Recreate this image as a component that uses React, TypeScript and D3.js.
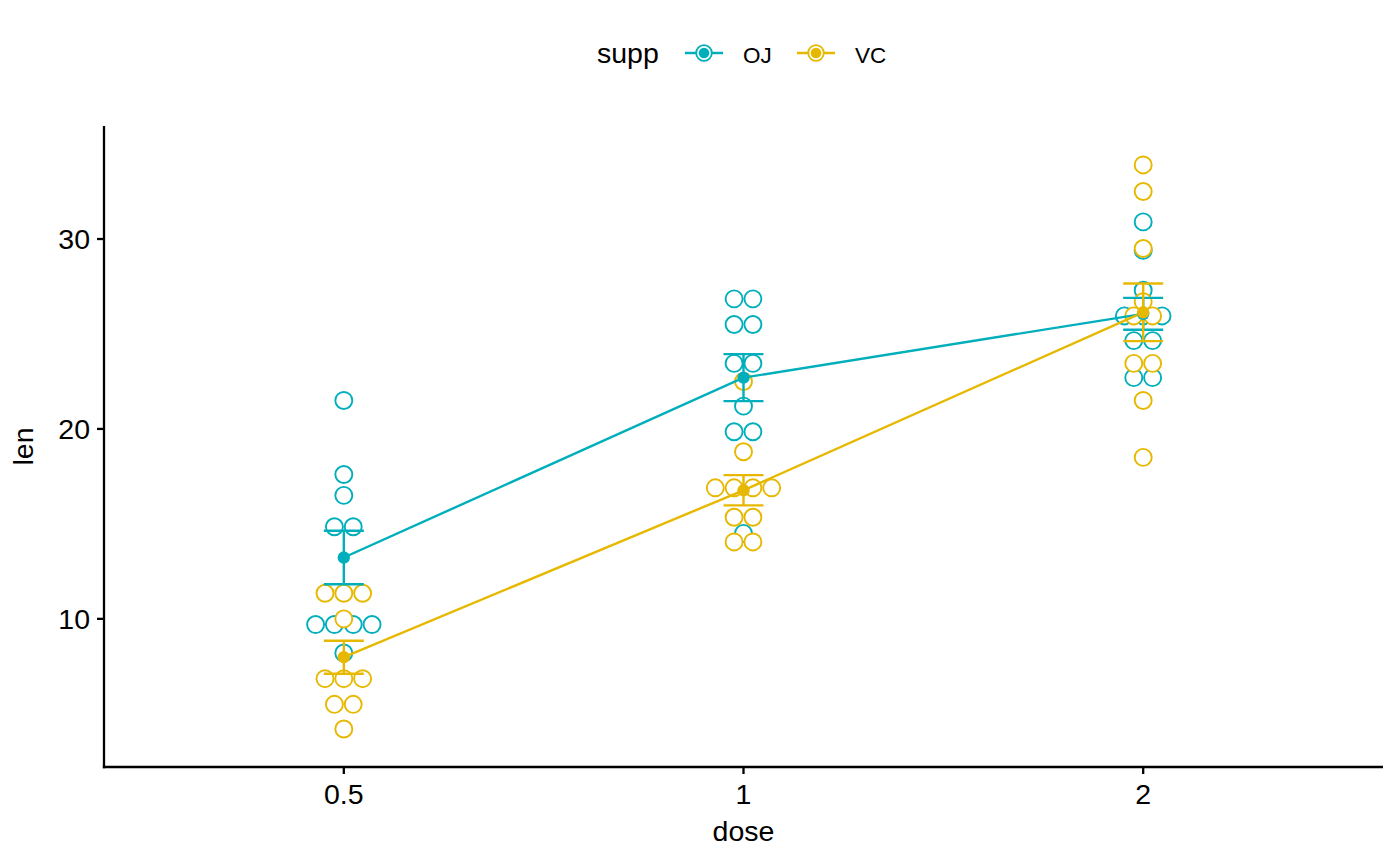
import React, { useEffect } from "react";
import * as d3 from "d3";

// ---- data (ToothGrowth) ----
const doses = ["0.5", "1", "2"];
const supps = ["OJ", "VC"];
const suppColors = ["#00AFBB", "#E7B800"];

const ojLen05 = [15.2, 21.5, 17.6, 9.7, 14.5, 10, 8.2, 9.4, 16.5, 9.7];
const ojLen1 = [19.7, 23.3, 23.6, 26.4, 20, 25.2, 25.8, 21.2, 14.5, 27.3];
const ojLen2 = [25.5, 26.4, 22.4, 24.5, 24.8, 30.9, 26.4, 27.3, 29.4, 23];
const vcLen05 = [4.2, 11.5, 7.3, 5.8, 6.4, 10, 11.2, 11.2, 5.2, 7];
const vcLen1 = [16.5, 16.5, 15.2, 17.3, 22.5, 17.3, 13.6, 14.5, 18.8, 15.5];
const vcLen2 = [23.6, 18.5, 33.9, 25.5, 26.4, 32.5, 26.7, 21.5, 23.3, 29.5];

const yTicks = [10, 20, 30];
const yDomain = [2.2, 35.95];

const W = 1400;
const H = 866;
const panel = { left: 104, right: 1383, top: 126, bottom: 767 };
const FONT = "'Liberation Sans', Arial, Helvetica, sans-serif";

type Bin = { center: number; count: number };

function dotDensity(values: number[], bw: number): Bin[] {
  const v = [...values].sort((a, b) => a - b);
  const groups: number[][] = [];
  let binEnd = -Infinity;
  for (const x of v) {
    if (x >= binEnd - 1e-9) {
      binEnd = x + bw;
      groups.push([x]);
    } else groups[groups.length - 1].push(x);
  }
  return groups.map((g) => ({ center: (g[0] + g[g.length - 1]) / 2, count: g.length }));
}

export default function App() {
  useEffect(() => {
    document.body.style.margin = "0";
  }, []);

  const series = [
    [ojLen05, ojLen1, ojLen2],
    [vcLen05, vcLen1, vcLen2],
  ];

  const x = d3
    .scalePoint<string>()
    .domain(doses)
    .range([panel.left, panel.right])
    .padding(0.6);
  const step = x.step();
  const y = d3.scaleLinear().domain(yDomain).range([panel.bottom, panel.top]);

  const all = series.flat(2);
  const [mn, mx] = d3.extent(all) as [number, number];
  const bw = (mx - mn) / 30;
  const dotDia = Math.abs(y(0) - y(bw));
  const dotR = dotDia / 2 - 0.9;

  const stats = series.map((grp) =>
    grp.map((vals) => {
      const m = d3.mean(vals) as number;
      const se = (d3.deviation(vals) as number) / Math.sqrt(vals.length);
      return { m, lo: m - se, hi: m + se };
    })
  );

  const line = d3
    .line<{ m: number }>()
    .x((_, i) => x(doses[i]) as number)
    .y((d) => y(d.m));

  const capHalf = step * 0.05;

  return (
    <svg width={W} height={H} style={{ display: "block", background: "#fff" }} fontFamily={FONT}>
      {/* dots */}
      {series.map((grp, si) =>
        grp.map((vals, di) => {
          const cx0 = x(doses[di]) as number;
          return dotDensity(vals, bw).map((b, bi) =>
            d3.range(b.count).map((k) => (
              <circle
                key={`${si}-${di}-${bi}-${k}`}
                cx={cx0 + (k - (b.count - 1) / 2) * dotDia}
                cy={y(b.center)}
                r={dotR}
                fill="#fff"
                stroke={suppColors[si]}
                strokeWidth={1.9}
              />
            ))
          );
        })
      )}
      {/* error bars */}
      {stats.map((grp, si) =>
        grp.map((s, di) => {
          const cx = x(doses[di]) as number;
          return (
            <g key={`eb-${si}-${di}`} stroke={suppColors[si]} strokeWidth={2.4}>
              <line x1={cx} x2={cx} y1={y(s.lo)} y2={y(s.hi)} />
              <line x1={cx - capHalf} x2={cx + capHalf} y1={y(s.lo)} y2={y(s.lo)} />
              <line x1={cx - capHalf} x2={cx + capHalf} y1={y(s.hi)} y2={y(s.hi)} />
            </g>
          );
        })
      )}
      {/* lines */}
      {stats.map((grp, si) => (
        <path key={`ln-${si}`} d={line(grp) as string} fill="none" stroke={suppColors[si]} strokeWidth={2.4} />
      ))}
      {/* mean points */}
      {stats.map((grp, si) =>
        grp.map((s, di) => (
          <circle key={`pt-${si}-${di}`} cx={x(doses[di]) as number} cy={y(s.m)} r={6.2} fill={suppColors[si]} />
        ))
      )}

      {/* axes */}
      <g stroke="#000" strokeWidth={2.3}>
        <line x1={panel.left} x2={panel.left} y1={panel.top} y2={panel.bottom + 1.15} />
        <line x1={panel.left - 1.15} x2={panel.right} y1={panel.bottom} y2={panel.bottom} />
        {yTicks.map((t) => (
          <line key={`yt${t}`} x1={panel.left - 7} x2={panel.left} y1={y(t)} y2={y(t)} />
        ))}
        {doses.map((d) => (
          <line key={`xt${d}`} x1={x(d) as number} x2={x(d) as number} y1={panel.bottom} y2={panel.bottom + 7} />
        ))}
      </g>
      {yTicks.map((t) => (
        <text key={`yl${t}`} x={panel.left - 14} y={y(t)} dy="0.36em" textAnchor="end" fontSize={28.5} fill="#000">
          {t}
        </text>
      ))}
      {doses.map((d) => (
        <text key={`xl${d}`} x={x(d) as number} y={804} textAnchor="middle" fontSize={28.5} fill="#000">
          {d}
        </text>
      ))}
      <text x={(panel.left + panel.right) / 2} y={841} textAnchor="middle" fontSize={28.5} fill="#000">
        dose
      </text>
      <text
        transform={`translate(33,${(panel.top + panel.bottom) / 2}) rotate(-90)`}
        textAnchor="middle"
        fontSize={28.5}
        fill="#000"
      >
        len
      </text>

      {/* legend */}
      <text x={597} y={63} fontSize={28.5} fill="#000">
        supp
      </text>
      {supps.map((s, i) => {
        const cx = [704, 816][i];
        const tx = [743, 855][i];
        return (
          <g key={`lg-${s}`}>
            <line x1={cx - 19} x2={cx + 19} y1={53} y2={53} stroke={suppColors[i]} strokeWidth={2.4} />
            <circle cx={cx} cy={53} r={7.8} fill="#fff" stroke={suppColors[i]} strokeWidth={1.8} />
            <circle cx={cx} cy={53} r={5.3} fill={suppColors[i]} />
            <text x={tx} y={63} fontSize={22.5} fill="#000">
              {s}
            </text>
          </g>
        );
      })}
    </svg>
  );
}
